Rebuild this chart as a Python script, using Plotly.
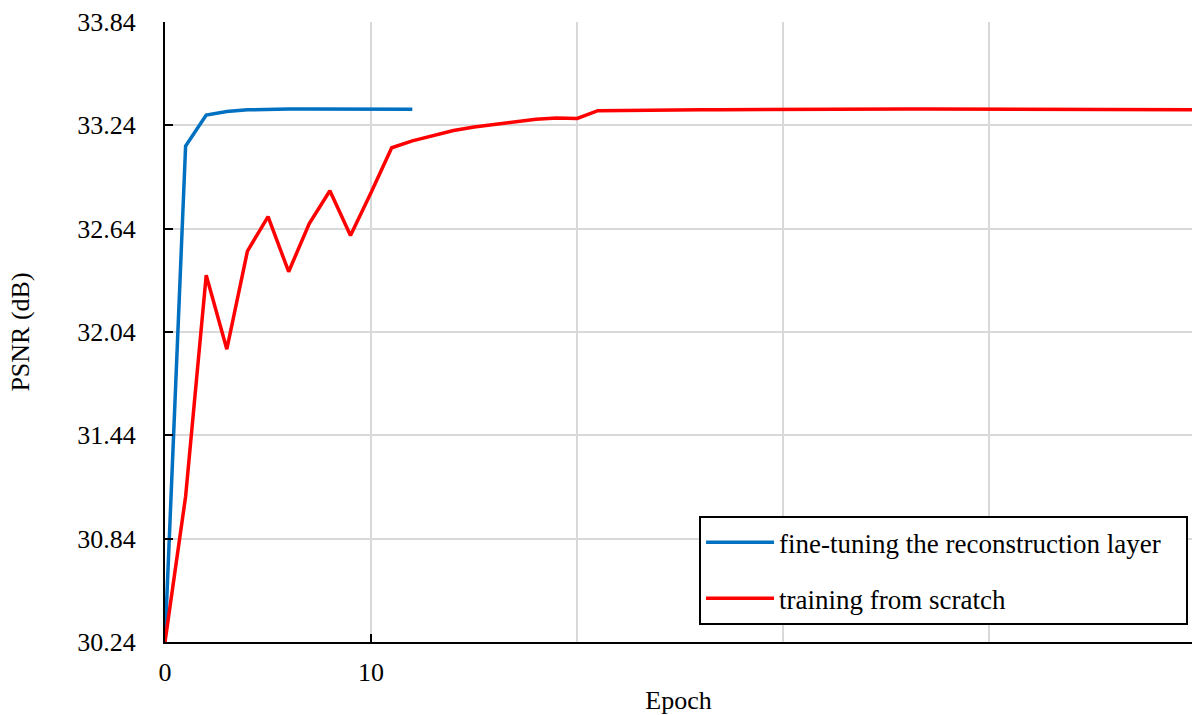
import plotly.graph_objects as go

epochs_ft = list(range(0, 13))
psnr_ft = [30.24, 33.12, 33.30, 33.32, 33.33, 33.335, 33.335, 33.335, 33.335,
           33.333, 33.333, 33.333, 33.333]

epochs_scratch = list(range(0, 51))
psnr_scratch = [30.24, 31.085, 32.37, 31.94, 32.51, 32.71, 32.39, 32.67, 32.86, 32.60,
                32.85, 33.11, 33.15, 33.18, 33.21, 33.23, 33.245, 33.26, 33.275, 33.283,
                33.28, 33.325, 33.327, 33.328, 33.329, 33.330, 33.330, 33.331, 33.332, 33.333,
                33.334, 33.335, 33.335, 33.335, 33.335, 33.335, 33.335, 33.335, 33.335, 33.335,
                33.335, 33.334, 33.333, 33.332, 33.332, 33.331, 33.331, 33.330, 33.330, 33.330,
                33.330]

series_names = ["fine-tuning the reconstruction layer", "training from scratch"]
y_ticks = [30.24, 30.84, 31.44, 32.04, 32.64, 33.24, 33.84]
x_ticks = [0, 10]
x_minor_grid = [20, 30, 40]

FONT = "Liberation Serif, Times New Roman, serif"
PAD = "\u00a0\u00a0\u00a0"

fig = go.Figure()
fig.add_trace(go.Scatter(x=epochs_ft, y=psnr_ft, mode="lines",
                         name=series_names[0] + PAD,
                         line=dict(color="#0070C0", width=3.5), legendgroup="a"))
fig.add_trace(go.Scatter(x=epochs_scratch, y=psnr_scratch, mode="lines",
                         name=series_names[1],
                         line=dict(color="#FF0000", width=3.5), legendgroup="b"))

fig.update_layout(
    width=1192, height=715,
    margin=dict(l=165, r=0, t=22, b=73),
    paper_bgcolor="white", plot_bgcolor="white",
    font=dict(family=FONT, size=26, color="black"),
    showlegend=True,
    legend=dict(x=0.52, y=0.203, xanchor="left", yanchor="top",
                bordercolor="black", borderwidth=2, bgcolor="white",
                font=dict(family=FONT, size=27, color="black"),
                traceorder="grouped", tracegroupgap=18,
                itemwidth=68),
    xaxis=dict(
        range=[0, 49.83], tickvals=x_ticks, ticktext=[str(v) for v in x_ticks],
        showline=True, linecolor="black", linewidth=2,
        ticks="inside", ticklen=8, tickwidth=2, tickcolor="black",
        showgrid=True, gridcolor="#d9d9d9", gridwidth=1.5,
        minor=dict(tickvals=x_minor_grid, showgrid=True, gridcolor="#d9d9d9",
                   gridwidth=1.5, ticks=""),
        zeroline=False, automargin=False,
        title=dict(text="Epoch", font=dict(family=FONT, size=26), standoff=16),
        tickfont=dict(family=FONT, size=26),
        ticklabelstandoff=6,
    ),
    yaxis=dict(
        range=[30.24, 33.84], tickvals=y_ticks,
        ticktext=[f"{v:.2f}" for v in y_ticks],
        showline=True, linecolor="black", linewidth=2,
        ticks="inside", ticklen=8, tickwidth=2, tickcolor="black",
        showgrid=True, gridcolor="#d9d9d9", gridwidth=1.5,
        zeroline=False, automargin=False,
        title=dict(text="PSNR (dB)", font=dict(family=FONT, size=26), standoff=40),
        tickfont=dict(family=FONT, size=26),
        ticklabelstandoff=22,
    ),
)

fig.write_html("out.html", config={"displayModeBar": False},
               post_script="document.body.style.margin='0';document.body.style.padding='0';")
